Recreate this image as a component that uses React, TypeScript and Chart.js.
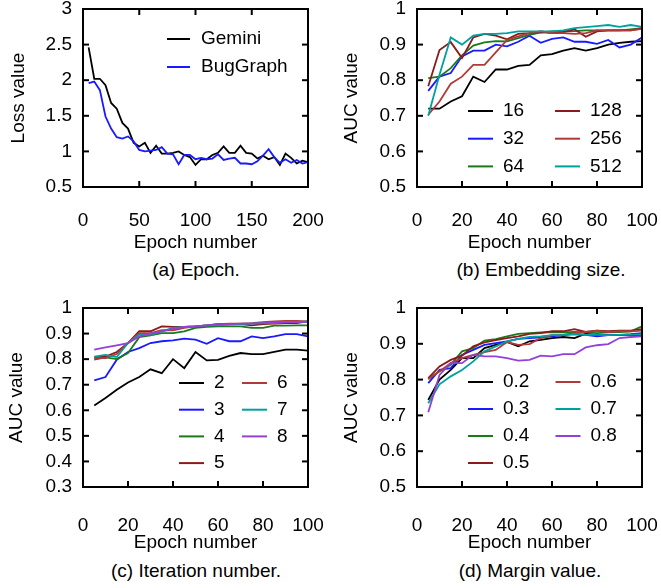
import React, { useEffect, useRef } from "react";
import { Chart, registerables } from "chart.js";

Chart.register(...registerables);

const FONT = "'Liberation Sans', Arial, Helvetica, sans-serif";
const FS = 19;
Chart.defaults.font.family = FONT;
Chart.defaults.font.size = FS;
Chart.defaults.color = "#000";

// ---------- data ----------
const epochLong = [5, 10, 15, 20, 25, 30, 35, 40, 45, 50, 55, 60, 65, 70, 75, 80, 85, 90, 95, 100, 105, 110, 115, 120, 125, 130, 135, 140, 145, 150, 155, 160, 165, 170, 175, 180, 185, 190, 195, 200];
const epochShort = [5, 10, 15, 20, 25, 30, 35, 40, 45, 50, 55, 60, 65, 70, 75, 80, 85, 90, 95, 100];

const ticksEpochLong = [0, 50, 100, 150, 200];
const ticksEpochShort = [0, 20, 40, 60, 80, 100];
const ticksLoss = [0.5, 1, 1.5, 2, 2.5, 3];
const ticksAucB = [0.5, 0.6, 0.7, 0.8, 0.9, 1];
const ticksAucC = [0.3, 0.4, 0.5, 0.6, 0.7, 0.8, 0.9, 1];

const geminiLoss = [2.46, 2.02, 2.02, 1.93, 1.68, 1.6, 1.4, 1.32, 1.12, 1.07, 1.12, 0.98, 1.08, 0.97, 0.97, 0.98, 1.0, 0.95, 0.92, 0.81, 0.89, 0.89, 0.95, 0.98, 1.07, 0.98, 0.98, 1.08, 0.98, 0.97, 0.9, 0.94, 0.89, 0.92, 0.81, 0.97, 0.91, 0.83, 0.87, 0.85];
const bugGraphLoss = [1.96, 1.98, 1.86, 1.49, 1.32, 1.2, 1.18, 1.21, 1.14, 1.02, 1.0, 1.01, 1.02, 1.06, 0.97, 0.96, 0.82, 0.95, 0.95, 0.89, 0.91, 0.89, 0.9, 0.96, 0.88, 0.9, 0.91, 0.83, 0.83, 0.82, 0.86, 0.94, 1.03, 0.92, 0.84, 0.89, 0.84, 0.88, 0.83, 0.85];

const emb16 = [0.72, 0.72, 0.74, 0.755, 0.81, 0.795, 0.83, 0.83, 0.84, 0.843, 0.87, 0.873, 0.883, 0.89, 0.883, 0.89, 0.9, 0.905, 0.908, 0.91];
const emb32 = [0.77, 0.81, 0.82, 0.867, 0.883, 0.883, 0.9, 0.895, 0.908, 0.925, 0.905, 0.916, 0.92, 0.908, 0.908, 0.902, 0.913, 0.892, 0.9, 0.92];
const emb64 = [0.806, 0.81, 0.834, 0.87, 0.897, 0.906, 0.91, 0.909, 0.918, 0.927, 0.934, 0.937, 0.937, 0.938, 0.94, 0.94, 0.94, 0.94, 0.943, 0.946];
const emb128 = [0.783, 0.885, 0.907, 0.862, 0.92, 0.93, 0.925, 0.915, 0.93, 0.932, 0.935, 0.932, 0.935, 0.943, 0.922, 0.937, 0.94, 0.94, 0.94, 0.946];
const emb256 = [0.703, 0.74, 0.79, 0.81, 0.843, 0.843, 0.878, 0.913, 0.923, 0.932, 0.938, 0.932, 0.932, 0.93, 0.932, 0.94, 0.94, 0.94, 0.94, 0.944];
const emb512 = [0.7, 0.815, 0.92, 0.9, 0.925, 0.93, 0.93, 0.932, 0.937, 0.937, 0.937, 0.937, 0.94, 0.946, 0.949, 0.952, 0.955, 0.95, 0.955, 0.95];

const iter2 = [0.619, 0.648, 0.68, 0.709, 0.73, 0.76, 0.745, 0.8, 0.765, 0.828, 0.795, 0.797, 0.813, 0.824, 0.82, 0.82, 0.828, 0.837, 0.837, 0.833];
const iter3 = [0.717, 0.73, 0.798, 0.828, 0.843, 0.863, 0.87, 0.873, 0.88, 0.876, 0.86, 0.882, 0.87, 0.87, 0.889, 0.882, 0.889, 0.898, 0.898, 0.889];
const iter4 = [0.798, 0.807, 0.8, 0.824, 0.886, 0.893, 0.902, 0.902, 0.909, 0.922, 0.926, 0.928, 0.928, 0.928, 0.922, 0.922, 0.931, 0.931, 0.932, 0.932];
const iter5 = [0.807, 0.81, 0.828, 0.863, 0.909, 0.909, 0.928, 0.926, 0.926, 0.928, 0.932, 0.937, 0.937, 0.937, 0.932, 0.937, 0.939, 0.941, 0.941, 0.948];
const iter6 = [0.804, 0.804, 0.82, 0.863, 0.902, 0.902, 0.913, 0.913, 0.922, 0.928, 0.932, 0.937, 0.939, 0.939, 0.941, 0.945, 0.948, 0.95, 0.95, 0.948];
const iter7 = [0.81, 0.817, 0.808, 0.863, 0.896, 0.896, 0.909, 0.922, 0.926, 0.928, 0.932, 0.932, 0.935, 0.937, 0.939, 0.941, 0.941, 0.945, 0.945, 0.948];
const iter8 = [0.837, 0.846, 0.854, 0.863, 0.889, 0.9, 0.909, 0.918, 0.926, 0.928, 0.932, 0.935, 0.937, 0.939, 0.939, 0.941, 0.944, 0.945, 0.945, 0.945];

const marg02 = [0.743, 0.8, 0.827, 0.86, 0.86, 0.888, 0.897, 0.905, 0.893, 0.907, 0.911, 0.916, 0.919, 0.916, 0.928, 0.924, 0.924, 0.925, 0.924, 0.925];
const marg03 = [0.79, 0.827, 0.832, 0.869, 0.883, 0.897, 0.902, 0.907, 0.914, 0.916, 0.918, 0.921, 0.924, 0.927, 0.925, 0.921, 0.924, 0.925, 0.927, 0.93];
const marg04 = [0.802, 0.823, 0.841, 0.879, 0.888, 0.909, 0.913, 0.921, 0.928, 0.93, 0.932, 0.933, 0.932, 0.933, 0.932, 0.93, 0.932, 0.933, 0.935, 0.949];
const marg05 = [0.804, 0.837, 0.855, 0.867, 0.893, 0.904, 0.91, 0.916, 0.921, 0.928, 0.93, 0.935, 0.935, 0.941, 0.933, 0.937, 0.935, 0.937, 0.937, 0.941];
const marg06 = [0.802, 0.823, 0.846, 0.86, 0.869, 0.877, 0.883, 0.905, 0.897, 0.899, 0.916, 0.924, 0.925, 0.93, 0.933, 0.937, 0.933, 0.935, 0.935, 0.937];
const marg07 = [0.734, 0.787, 0.809, 0.827, 0.851, 0.879, 0.893, 0.907, 0.914, 0.919, 0.921, 0.924, 0.925, 0.927, 0.925, 0.925, 0.924, 0.925, 0.925, 0.927];
const marg08 = [0.709, 0.813, 0.846, 0.846, 0.869, 0.865, 0.865, 0.86, 0.853, 0.855, 0.867, 0.865, 0.871, 0.871, 0.89, 0.896, 0.899, 0.916, 0.919, 0.921];

const labelsA = ["Gemini", "BugGraph"];
const labelsB = ["16", "32", "64", "128", "256", "512"];
const labelsC = ["2", "3", "4", "5", "6", "7", "8"];
const labelsD = ["0.2", "0.3", "0.4", "0.5", "0.6", "0.7", "0.8"];

const palette = ["#000000", "#1a1aff", "#1a7a1a", "#8b1a1a", "#b03a3a", "#00a0a0", "#9440d8"];

const TICK_LEN = 6;

// ---------- frame + legend plugin ----------
const frameAndLegend = {
  id: "frameAndLegend",
  afterDraw(chart: any, _a: any, o: any) {
    const ctx: CanvasRenderingContext2D = chart.ctx;
    const ca = chart.chartArea;
    const sx = chart.scales.x;
    const sy = chart.scales.y;
    ctx.save();

    // frame and inward mirrored ticks, drawn the same way as the legend samples
    ctx.strokeStyle = "#000000";
    ctx.lineWidth = 2;
    ctx.beginPath();
    ctx.moveTo(ca.left, ca.top);
    ctx.lineTo(ca.right, ca.top);
    ctx.lineTo(ca.right, ca.bottom);
    ctx.lineTo(ca.left, ca.bottom);
    ctx.closePath();
    ctx.stroke();
    sx.ticks.forEach((t: any) => {
      const px = sx.getPixelForValue(t.value);
      ctx.beginPath();
      ctx.moveTo(px, ca.bottom);
      ctx.lineTo(px, ca.bottom - TICK_LEN);
      ctx.stroke();
      ctx.beginPath();
      ctx.moveTo(px, ca.top);
      ctx.lineTo(px, ca.top + TICK_LEN);
      ctx.stroke();
    });
    sy.ticks.forEach((t: any) => {
      const py = sy.getPixelForValue(t.value);
      ctx.beginPath();
      ctx.moveTo(ca.left, py);
      ctx.lineTo(ca.left + TICK_LEN, py);
      ctx.stroke();
      ctx.beginPath();
      ctx.moveTo(ca.right, py);
      ctx.lineTo(ca.right - TICK_LEN, py);
      ctx.stroke();
    });

    // legend
    ctx.font = `${FS}px ${FONT}`;
    ctx.textBaseline = "middle";
    ctx.textAlign = "left";
    chart.data.datasets.forEach((ds: any, i: number) => {
      const col = Math.floor(i / o.rows);
      const row = i % o.rows;
      const x = ca.left + o.x0 + col * o.colW;
      const y = ca.top + o.y0 + row * o.rowH;
      ctx.strokeStyle = ds.borderColor;
      ctx.lineWidth = 2;
      ctx.beginPath();
      ctx.moveTo(x, y);
      ctx.lineTo(x + o.sample, y);
      ctx.stroke();
      ctx.fillStyle = "#000";
      ctx.fillText(ds.label, x + o.sample + o.gap, y);
    });
    ctx.restore();
  },
};

const fmt = (v: any) => String(parseFloat(Number(v).toFixed(2)));

type PanelSpec = {
  xs: number[];
  series: number[][];
  labels: string[];
  xMin: number;
  xMax: number;
  xTicks: number[];
  yMin: number;
  yMax: number;
  yTicks: number[];
  yTitle: string;
  W: number;
  H: number;
  area: { l: number; t: number; r: number; b: number };
  yTitleX: number;
  xTitleY: number;
  xLabelPad: number;
  legend: any;
};

function zeroPad(s: any) {
  s.paddingTop = 0;
  s.paddingBottom = 0;
  s.paddingLeft = 0;
  s.paddingRight = 0;
}

function makeConfig(p: PanelSpec): any {
  const half = (FS * 1.2) / 2;
  return {
    type: "line",
    data: {
      datasets: p.series.map((vals, i) => ({
        label: p.labels[i],
        data: p.xs.map((x, j) => ({ x, y: vals[j] })),
        borderColor: palette[i],
        backgroundColor: palette[i],
        borderWidth: 1.8,
        pointRadius: 0,
        tension: 0,
        fill: false,
        order: -i,
      })),
    },
    options: {
      responsive: false,
      animation: false,
      events: [],
      layout: {
        autoPadding: false,
        padding: { left: 0, top: p.area.t, right: p.W - p.area.r, bottom: 0 },
      },
      plugins: {
        legend: { display: false },
        tooltip: { enabled: false },
        frameAndLegend: p.legend,
      },
      scales: {
        x: {
          type: "linear",
          min: p.xMin,
          max: p.xMax,
          afterBuildTicks: (s: any) => {
            s.ticks = p.xTicks.map((v) => ({ value: v }));
          },
          afterFit: (s: any) => {
            s.height = p.H - p.area.b;
            zeroPad(s);
          },
          grid: { display: false, drawTicks: false },
          border: { display: false },
          ticks: { padding: p.xLabelPad, autoSkip: false, maxRotation: 0, callback: fmt },
          title: {
            display: true,
            text: "Epoch number",
            padding: { top: 0, bottom: p.H - p.xTitleY - half },
          },
        },
        y: {
          type: "linear",
          min: p.yMin,
          max: p.yMax,
          afterBuildTicks: (s: any) => {
            s.ticks = p.yTicks.map((v) => ({ value: v }));
          },
          afterFit: (s: any) => {
            s.width = p.area.l;
            zeroPad(s);
          },
          grid: { display: false, drawTicks: false },
          border: { display: false },
          ticks: { padding: 11, autoSkip: false, callback: fmt },
          title: {
            display: true,
            text: p.yTitle,
            padding: { top: p.yTitleX - half, bottom: 0 },
          },
        },
      },
    },
    plugins: [frameAndLegend],
  };
}

function Panel({ left, top, spec }: { left: number; top: number; spec: PanelSpec }) {
  const ref = useRef<HTMLCanvasElement>(null);
  useEffect(() => {
    const chart = new Chart(ref.current as HTMLCanvasElement, makeConfig(spec));
    return () => chart.destroy();
  }, []);
  return (
    <canvas
      ref={ref}
      width={spec.W}
      height={spec.H}
      style={{ position: "absolute", left, top, width: spec.W, height: spec.H }}
    />
  );
}

function Caption({ cx, cy, text }: { cx: number; cy: number; text: string }) {
  return (
    <div
      style={{
        position: "absolute",
        left: cx - 150,
        top: cy - 11,
        width: 300,
        height: 22,
        lineHeight: "22px",
        textAlign: "center",
        fontFamily: FONT,
        fontSize: FS,
        color: "#000",
        whiteSpace: "nowrap",
      }}
    >
      {text}
    </div>
  );
}

const specA: PanelSpec = {
  xs: epochLong,
  series: [geminiLoss, bugGraphLoss],
  labels: labelsA,
  xMin: 0,
  xMax: 200,
  xTicks: ticksEpochLong,
  yMin: 0.5,
  yMax: 3,
  yTicks: ticksLoss,
  yTitle: "Loss value",
  W: 330,
  H: 258,
  area: { l: 83, t: 9, r: 308, b: 187 },
  yTitleX: 19,
  xTitleY: 243,
  xLabelPad: 22,
  legend: { x0: 84, colW: 0, rowH: 28, rows: 2, y0: 30, sample: 23, gap: 11 },
};

const specB: PanelSpec = {
  xs: epochShort,
  series: [emb16, emb32, emb64, emb128, emb256, emb512],
  labels: labelsB,
  xMin: 0,
  xMax: 100,
  xTicks: ticksEpochShort,
  yMin: 0.5,
  yMax: 1,
  yTicks: ticksAucB,
  yTitle: "AUC value",
  W: 331,
  H: 258,
  area: { l: 87, t: 9, r: 312, b: 187 },
  yTitleX: 22,
  xTitleY: 243,
  xLabelPad: 22,
  legend: { x0: 51, colW: 87, rowH: 27.7, rows: 3, y0: 102, sample: 25, gap: 10 },
};

const specC: PanelSpec = {
  xs: epochShort,
  series: [iter2, iter3, iter4, iter5, iter6, iter7, iter8],
  labels: labelsC,
  xMin: 0,
  xMax: 100,
  xTicks: ticksEpochShort,
  yMin: 0.3,
  yMax: 1,
  yTicks: ticksAucC,
  yTitle: "AUC value",
  W: 330,
  H: 262,
  area: { l: 83, t: 13, r: 308, b: 192 },
  yTitleX: 17,
  xTitleY: 248,
  xLabelPad: 27,
  legend: { x0: 96, colW: 63, rowH: 26.7, rows: 4, y0: 75, sample: 25, gap: 10 },
};

const specD: PanelSpec = {
  xs: epochShort,
  series: [marg02, marg03, marg04, marg05, marg06, marg07, marg08],
  labels: labelsD,
  xMin: 0,
  xMax: 100,
  xTicks: ticksEpochShort,
  yMin: 0.5,
  yMax: 1,
  yTicks: ticksAucB,
  yTitle: "AUC value",
  W: 331,
  H: 262,
  area: { l: 87, t: 13, r: 312, b: 192 },
  yTitleX: 22,
  xTitleY: 248,
  xLabelPad: 27,
  legend: { x0: 51, colW: 87.5, rowH: 27, rows: 4, y0: 74, sample: 25, gap: 10 },
};

export default function App() {
  return (
    <div
      style={{
        position: "absolute",
        left: 0,
        top: 0,
        width: 661,
        height: 588,
        background: "#fff",
        overflow: "hidden",
      }}
    >
      <Panel left={0} top={0} spec={specA} />
      <Panel left={330} top={0} spec={specB} />
      <Panel left={0} top={295} spec={specC} />
      <Panel left={330} top={295} spec={specD} />
      <Caption cx={196} cy={270} text="(a) Epoch." />
      <Caption cx={541} cy={270} text="(b) Embedding size." />
      <Caption cx={196} cy={571} text="(c) Iteration number." />
      <Caption cx={530} cy={571} text="(d) Margin value." />
    </div>
  );
}
